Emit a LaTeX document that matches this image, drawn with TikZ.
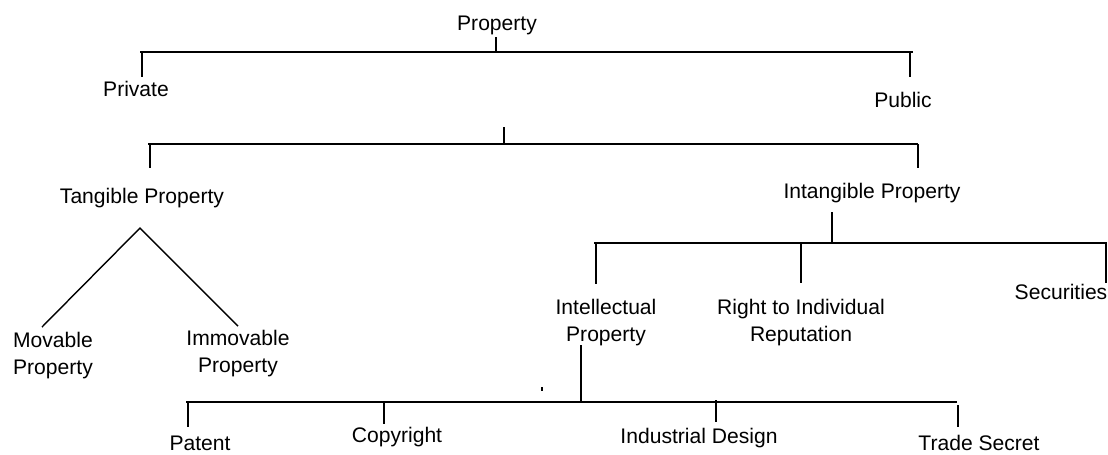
\documentclass[tikz,border=0pt]{standalone}
\usepackage{fontspec}
\setmainfont{Liberation Sans}
\tikzset{>=stealth}
\tikzset{lbl/.style={font=\fontsize{12}{15.4}\selectfont, inner sep=0pt, align=center, anchor=base}}

\begin{document}
\begin{tikzpicture}[x=0.02cm, y=-0.02cm, line width=0.8pt]
\useasboundingbox (0,0) rectangle (1108,454);
% labels
\node[lbl] (Prop) at (497,30.5) {Property};
\node[lbl] (Priv) at (136,96.5) {Private};
\node[lbl] (Publ) at (903,107.5) {Public};
\node[lbl] (Tang) at (142,203.5) {Tangible Property};
\node[lbl] (Intang) at (872,198.5) {Intangible Property};
\node[lbl] (Mov) at (53,374.5) {Movable\\Property};
\node[lbl] (Immov) at (238,372.5) {Immovable\\Property};
\node[lbl] (Intel) at (606,341.5) {Intellectual\\Property};
\node[lbl] (Right) at (801,341.5) {Right to Individual\\Reputation};
\node[lbl] (Secu) at (1061,299.5) {Securities};
\node[lbl] (Pat) at (200,450.5) {Patent};
\node[lbl] (Copy) at (397,442.5) {Copyright};
\node[lbl] (Indus) at (699,443.5) {Industrial Design};
\node[lbl] (Trade) at (979,450.5) {Trade Secret};
% first level
\coordinate (P1) at (496,37);   \coordinate (P2) at (496,52);
\coordinate (L1) at (140,52);   \coordinate (R1) at (913,52);
\coordinate (V1) at (142,52);   \coordinate (V2) at (142,77);
\coordinate (U1) at (910,52);   \coordinate (U2) at (910,77);
\draw (P1) -- (P2);
\draw (L1) -- (R1);
\draw (V1) -- (V2);
\draw (U1) -- (U2);
% second level
\coordinate (Q1) at (504,127);  \coordinate (Q2) at (504,144);
\coordinate (L2) at (148,144);  \coordinate (R2) at (918,144);
\coordinate (T1) at (150,144);  \coordinate (T2) at (150,168);
\coordinate (I1) at (918,144);  \coordinate (I2) at (918,168);
\draw (Q1) -- (Q2);
\draw (L2) -- (R2);
\draw (T1) -- (T2);
\draw (I1) -- (I2);
% tangible
\coordinate (Top) at (140,228);
\coordinate (M) at (42,327);    \coordinate (N) at (238,326);
\draw (M) -- (Top) -- (N);
% intangible
\coordinate (S1) at (832,212);  \coordinate (S2) at (832,243);
\coordinate (L3) at (594,243);  \coordinate (R3) at (1107,243);
\coordinate (E1) at (596,243);  \coordinate (E2) at (596,284);
\coordinate (F1) at (801,243);  \coordinate (F2) at (801,283);
\coordinate (G1) at (1106,243); \coordinate (G2) at (1106,283);
\draw (S1) -- (S2);
\draw (L3) -- (R3);
\draw (E1) -- (E2);
\draw (F1) -- (F2);
\draw (G1) -- (G2);
% intellectual
\coordinate (H1) at (581,345);  \coordinate (H2) at (581,402);
\coordinate (L4) at (186,402);  \coordinate (R4) at (957,402);
\coordinate (K1) at (188,402);  \coordinate (K2) at (188,427);
\coordinate (C1) at (384,402);  \coordinate (C2) at (384,424);
\coordinate (D1) at (716,400);  \coordinate (D2) at (716,422);
\coordinate (X1) at (958,405);  \coordinate (X2) at (958,427);
\coordinate (Z1) at (542,387);  \coordinate (Z2) at (542,391);
\draw (H1) -- (H2);
\draw (L4) -- (R4);
\draw (K1) -- (K2);
\draw (C1) -- (C2);
\draw (D1) -- (D2);
\draw (X1) -- (X2);
\draw (Z1) -- (Z2);
\end{tikzpicture}
\end{document}
